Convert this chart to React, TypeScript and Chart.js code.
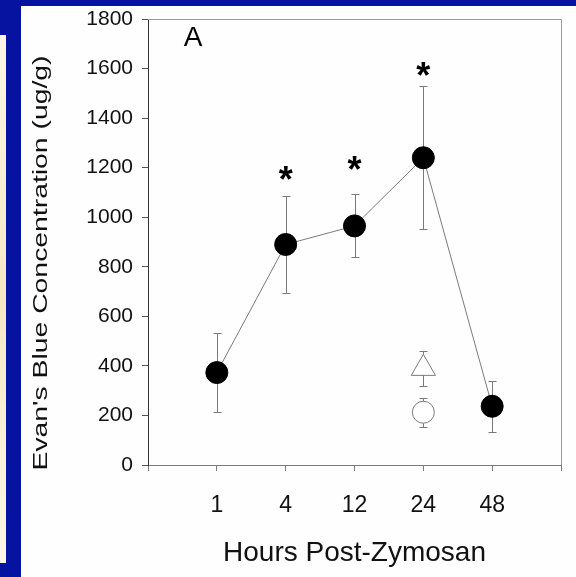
import React, { useEffect, useRef } from 'react';
import { Chart, registerables } from 'chart.js';

Chart.register(...registerables);

// ---- data ----
const categories = ['1', '4', '12', '24', '48'];
const zymosanMean = [373, 890, 965, 1240, 237];
const zymosanErr = [160, 195, 127, 288, 104];
const triangleCategory = '24';
const triangleMean = [390];
const triangleErr = [70];
const circleCategory = '24';
const circleMean = [213];
const circleErr = [58];
const asteriskValues: (number | null)[] = [null, 1180, 1218, 1600, null];
const yMin = 0;
const yMax = 1800;
const yStep = 200;
const xTitle = 'Hours Post-Zymosan';
const yTitle = "Evan's Blue Concentration (ug/g)";
const panelLabel = 'A';

const FONT = '"Liberation Sans", Arial, Helvetica, sans-serif';

const errorBarPlugin = {
  id: 'errorBars',
  beforeDatasetsDraw(chart: any) {
    const { ctx, scales } = chart;
    const x = scales.x;
    const y = scales.y;
    chart.data.datasets.forEach((ds: any) => {
      if (!ds.errors) return;
      ctx.save();
      ctx.strokeStyle = '#7a7a7a';
      ctx.lineWidth = 1;
      ds.data.forEach((p: any, i: number) => {
        const e = ds.errors[i];
        const px = Math.round(x.getPixelForValue(p.x)) + 0.5;
        const top = Math.round(y.getPixelForValue(p.y + e)) + 0.5;
        const bot = Math.round(y.getPixelForValue(p.y - e)) + 0.5;
        ctx.beginPath();
        ctx.moveTo(px, top);
        ctx.lineTo(px, bot);
        ctx.moveTo(px - 4, top);
        ctx.lineTo(px + 4, top);
        ctx.moveTo(px - 4, bot);
        ctx.lineTo(px + 4, bot);
        ctx.stroke();
      });
      ctx.restore();
    });
  },
};

const decorPlugin = {
  id: 'decor',
  afterDraw(chart: any) {
    const { ctx, chartArea, scales } = chart;
    const { left, right, top, bottom } = chartArea;
    ctx.save();
    // frame (top and right)
    ctx.strokeStyle = '#9a9a9a';
    ctx.lineWidth = 1;
    ctx.beginPath();
    ctx.moveTo(left, top + 0.5);
    ctx.lineTo(right + 0.5, top + 0.5);
    ctx.lineTo(right + 0.5, bottom);
    ctx.stroke();

    // asterisks
    ctx.fillStyle = '#000';
    ctx.font = `bold 36px ${FONT}`;
    ctx.textAlign = 'center';
    ctx.textBaseline = 'alphabetic';
    const m = ctx.measureText('*');
    const inkMid = (m.actualBoundingBoxAscent - m.actualBoundingBoxDescent) / 2;
    asteriskValues.forEach((v, i) => {
      if (v == null) return;
      const px = scales.x.getPixelForValue(i + 1);
      const py = scales.y.getPixelForValue(v);
      ctx.fillText('*', px, py + inkMid);
    });

    // panel label
    ctx.font = `28px ${FONT}`;
    ctx.textAlign = 'center';
    ctx.textBaseline = 'middle';
    ctx.fillStyle = '#000';
    ctx.fillText(panelLabel, left + 45, top + 19);

    // y title (stretched along its length)
    ctx.font = `20px ${FONT}`;
    const w = ctx.measureText(yTitle).width;
    const targetLen = 415;
    ctx.translate(left - 107, (top + bottom) / 2 + 21);
    ctx.rotate(-Math.PI / 2);
    ctx.scale(targetLen / w, 1);
    ctx.fillStyle = '#111';
    ctx.textAlign = 'center';
    ctx.textBaseline = 'middle';
    ctx.fillText(yTitle, 0, 0);
    ctx.restore();
  },
};

export default function App() {
  const canvasRef = useRef<HTMLCanvasElement | null>(null);

  useEffect(() => {
    const canvas = canvasRef.current;
    if (!canvas) return;
    const triIdx = categories.indexOf(triangleCategory) + 1;
    const cirIdx = categories.indexOf(circleCategory) + 1;
    const chart = new Chart(canvas, {
      type: 'scatter',
      data: {
        datasets: [
          {
            label: 'Zymosan',
            data: categories.map((_, i) => ({ x: i + 1, y: zymosanMean[i] })),
            errors: zymosanErr,
            showLine: true,
            borderColor: '#7a7a7a',
            borderWidth: 1,
            pointRadius: 11,
            pointHoverRadius: 11,
            pointBackgroundColor: '#000',
            pointBorderColor: '#000',
            pointBorderWidth: 1,
          } as any,
          {
            label: 'Triangle',
            data: triangleMean.map((v) => ({ x: triIdx, y: v })),
            errors: triangleErr,
            showLine: false,
            pointStyle: 'triangle',
            pointRadius: 14,
            pointHoverRadius: 14,
            pointBackgroundColor: '#fff',
            pointBorderColor: '#7a7a7a',
            pointBorderWidth: 1,
          } as any,
          {
            label: 'Circle',
            data: circleMean.map((v) => ({ x: cirIdx, y: v })),
            errors: circleErr,
            showLine: false,
            pointRadius: 11,
            pointHoverRadius: 11,
            pointBackgroundColor: '#fff',
            pointBorderColor: '#7a7a7a',
            pointBorderWidth: 1,
          } as any,
        ],
      },
      options: {
        responsive: false,
        animation: false,
        events: [],
        layout: { padding: { top: 19, right: 12, left: 0, bottom: 0 } },
        plugins: { legend: { display: false }, tooltip: { enabled: false } },
        scales: {
          x: {
            type: 'linear',
            min: 0,
            max: categories.length + 1,
            afterFit: (s: any) => {
              s.height = 112;
              s.paddingLeft = 0;
              s.paddingRight = 0;
            },
            afterBuildTicks: (s: any) => {
              const t = [];
              for (let i = 0; i <= categories.length + 1; i++) t.push({ value: i });
              s.ticks = t;
            },
            ticks: {
              autoSkip: false,
              maxRotation: 0,
              padding: 0,
              color: '#111',
              font: { family: FONT, size: 23, lineHeight: '70px' },
              callback: (v: any) => categories[Number(v) - 1] ?? '',
            },
            grid: { display: true, drawOnChartArea: false, drawTicks: true, tickLength: 6, color: '#7a7a7a' },
            border: { display: true, color: '#7a7a7a' },
            title: {
              display: true,
              text: xTitle,
              color: '#111',
              font: { family: FONT, size: 28 },
              padding: { top: 0, bottom: 7 },
            },
          },
          y: {
            type: 'linear',
            min: yMin,
            max: yMax,
            afterFit: (s: any) => {
              s.width = 148;
              s.paddingTop = 0;
              s.paddingBottom = 0;
            },
            ticks: {
              stepSize: yStep,
              padding: 9,
              color: '#111',
              font: { family: FONT, size: 21 },
              callback: (v: any) => String(v),
            },
            grid: { display: true, drawOnChartArea: false, drawTicks: true, tickLength: 6, color: '#555' },
            border: { display: true, color: '#333' },
          },
        },
      } as any,
      plugins: [errorBarPlugin, decorPlugin],
    });
    return () => chart.destroy();
  }, []);

  return (
    <div style={{ position: 'fixed', left: 0, top: 0, width: 576, height: 577, background: '#0613a1', overflow: 'hidden' }}>
      <div style={{ position: 'absolute', left: 21, top: 6, width: 555, height: 571, background: '#fefefe' }} />
      <div
        style={{
          position: 'absolute',
          left: 0,
          top: 35,
          width: 6,
          height: 528,
          background: 'linear-gradient(180deg, #fbf6e6 0%, #f4e8c4 50%, #fbf6e8 100%)',
        }}
      />
      <canvas ref={canvasRef} width={576} height={577} style={{ position: 'absolute', left: 0, top: 0, width: 576, height: 577 }} />
    </div>
  );
}
